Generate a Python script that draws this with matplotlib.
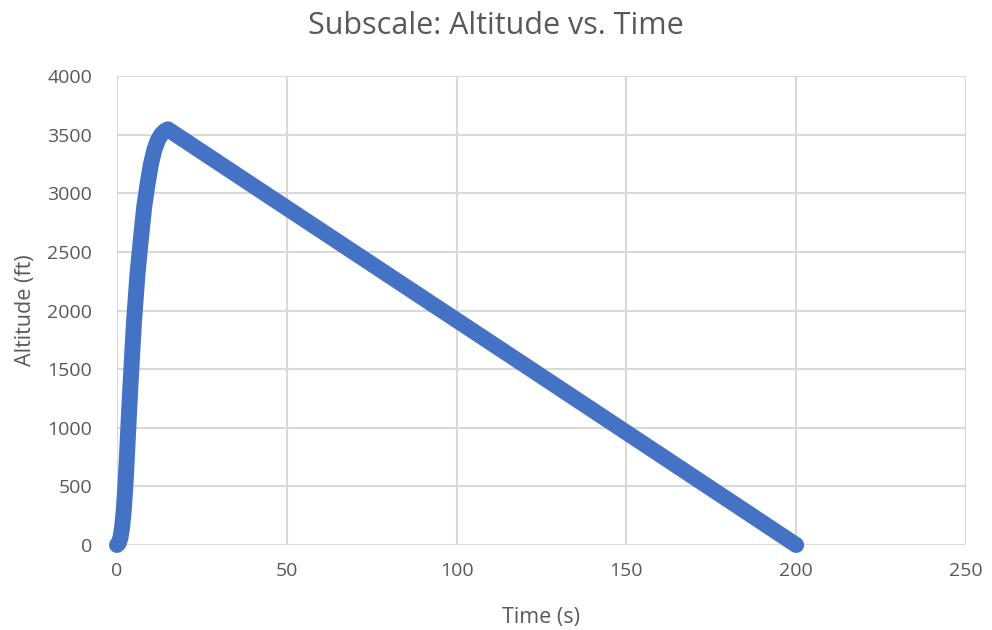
import matplotlib
matplotlib.use("Agg")
import matplotlib.pyplot as plt

time_s = [0, 0.5, 1, 1.5, 2, 2.5, 3, 3.5, 4, 5, 6, 7, 8, 9, 10, 11, 12, 13, 14, 15,
          40, 80, 120, 160, 200]
altitude_ft = [0, 15, 60, 150, 300, 520, 800, 1100, 1380, 1900, 2300, 2600, 2880, 3080,
               3250, 3370, 3450, 3500, 3530, 3545,
               3066, 2300, 1535, 768, 0]
x_ticks = [0, 50, 100, 150, 200, 250]
y_ticks = [0, 500, 1000, 1500, 2000, 2500, 3000, 3500, 4000]

plt.rcParams['font.family'] = ['Open Sans', 'DejaVu Sans']
text_color = '#595959'

fig = plt.figure(figsize=(9.92, 6.30), dpi=100)
ax = fig.add_axes([117/992, (630-545)/630, (966-117)/992, (545-76)/630])

ax.plot(time_s, altitude_ft, color='#4472c4', linewidth=11.5,
        solid_capstyle='round', solid_joinstyle='round', zorder=3, clip_on=False)

ax.set_xlim(0, 250)
ax.set_ylim(0, 4000)
ax.set_xticks(x_ticks)
ax.set_yticks(y_ticks)
ax.grid(True, color='#d9d9d9', linewidth=1.5)
ax.set_axisbelow(True)
for s in ax.spines.values():
    s.set_visible(False)
ax.tick_params(length=0, labelsize=14, colors=text_color, pad=12)
ax.tick_params(axis='y', pad=18)

ax.set_xlabel('Time (s)', fontsize=15.5, color=text_color, labelpad=20)
ax.set_ylabel('Altitude (ft)', fontsize=15.5, color=text_color, labelpad=8)
fig.suptitle('Subscale: Altitude vs. Time', fontsize=22, color=text_color, y=0.982)

fig.savefig('out.png', dpi=100)
